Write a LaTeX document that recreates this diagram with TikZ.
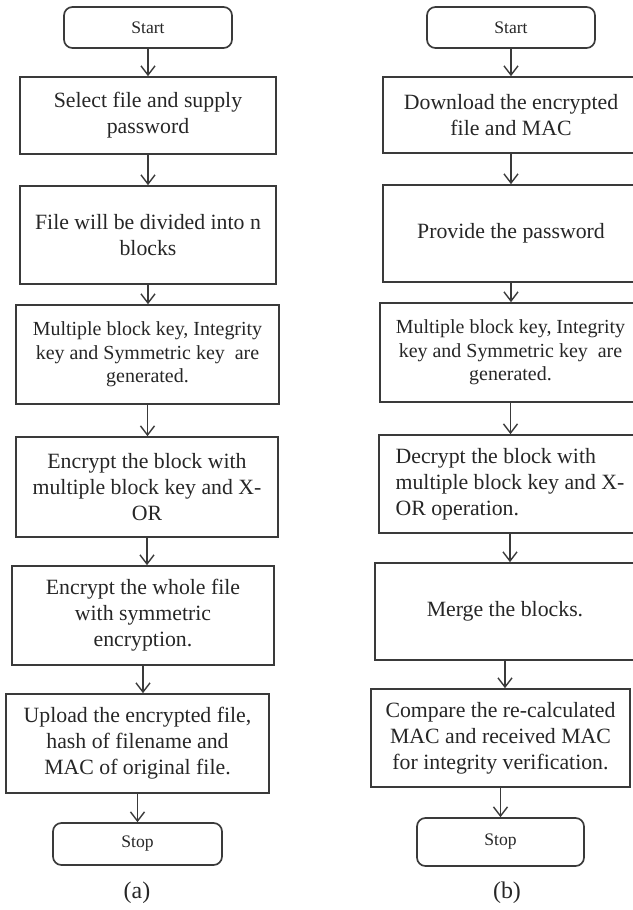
\documentclass[tikz,border=0pt]{standalone}
\usepackage{fontspec}
\setmainfont{Liberation Serif}
\usetikzlibrary{arrows.meta}

\definecolor{boxline}{HTML}{3A3A3A}
\definecolor{boxtext}{HTML}{262626}
\newcommand{\pxl}{0.025cm}

\tikzset{
  procbox/.style={draw=boxline, line width=1.2pt, text=boxtext, align=center,
    font=\fontsize{15.5}{18.5}\selectfont},
  termbox/.style={procbox, rounded corners=6pt, font=\fontsize{12.5}{14}\selectfont},
  arr/.style={draw=boxline, line width=1pt, -{Straight Barb[length=6.5pt,width=10pt]}},
}

\begin{document}
\begin{tikzpicture}[x=\pxl, y=-\pxl]
  \useasboundingbox (0,0) rectangle (633,910);

  % (a) encryption and upload
  \node[termbox, minimum width=168*\pxl, minimum height=41*\pxl] (a0) at (148,27.5) {Start};
  \node[procbox, minimum width=256*\pxl, minimum height=77*\pxl] (a1) at (148,115.5)
    {Select file and supply\\password};
  \node[procbox, minimum width=256*\pxl, minimum height=98*\pxl] (a2) at (148,235)
    {File will be divided into n\\blocks};
  \node[procbox, minimum width=263*\pxl, minimum height=99*\pxl,
    font=\fontsize{14.2}{16.6}\selectfont] (a3) at (147.5,354.5)
    {Multiple block key, Integrity\\key and Symmetric key~ are\\generated.};
  \node[procbox, minimum width=262*\pxl, minimum height=100*\pxl] (a4) at (147,487)
    {Encrypt the block with\\multiple block key and X-\\OR};
  \node[procbox, minimum width=262*\pxl, minimum height=99*\pxl] (a5) at (143,615.5)
    {Encrypt the whole file\\with symmetric\\encryption.};
  \node[procbox, minimum width=263*\pxl, minimum height=99*\pxl] (a6) at (137.5,743.5)
    {Upload the encrypted file,\\hash of filename and\\MAC of original file.};
  \node[termbox, minimum width=169*\pxl, minimum height=42*\pxl] (a7) at (137.5,844) {Stop};
  \node[text=boxtext, font=\fontsize{17}{20}\selectfont] (la) at (137,893) {(a)};

  % (b) download and decryption
  \node[termbox, minimum width=168*\pxl, minimum height=41*\pxl] (b0) at (511,27.5) {Start};
  \node[procbox, minimum width=256*\pxl, minimum height=76*\pxl] (b1) at (511,115)
    {Download the encrypted\\file and MAC};
  \node[procbox, minimum width=256*\pxl, minimum height=97*\pxl] (b2) at (511,233.5)
    {Provide the password};
  \node[procbox, minimum width=261*\pxl, minimum height=99*\pxl,
    font=\fontsize{14.2}{16.6}\selectfont] (b3) at (510.5,352.5)
    {Multiple block key, Integrity\\key and Symmetric key~ are\\generated.};
  \node[procbox, align=left, minimum width=262*\pxl, minimum height=98*\pxl] (b4) at (510,484)
    {Decrypt the block with\\multiple block key and X-\\OR operation.};
  \node[procbox, minimum width=260*\pxl, minimum height=97*\pxl] (b5) at (505,611.5)
    {Merge the blocks.};
  \node[procbox, minimum width=259*\pxl, minimum height=98*\pxl] (b6) at (500.5,738)
    {Compare the re-calculated\\MAC and received MAC\\for integrity verification.};
  \node[termbox, minimum width=167*\pxl, minimum height=48*\pxl] (b7) at (500.5,842) {Stop};
  \node[text=boxtext, font=\fontsize{17}{20}\selectfont] (lb) at (507,893) {(b)};

  % connectors
  \foreach \s/\t in {a0/a1, a1/a2, a2/a3, a3/a4, a4/a5, a5/a6, a6/a7,
                     b0/b1, b1/b2, b2/b3, b3/b4, b4/b5, b5/b6, b6/b7}
    \draw[arr] (\s.south) -- (\s.south |- \t.north);
\end{tikzpicture}
\end{document}
